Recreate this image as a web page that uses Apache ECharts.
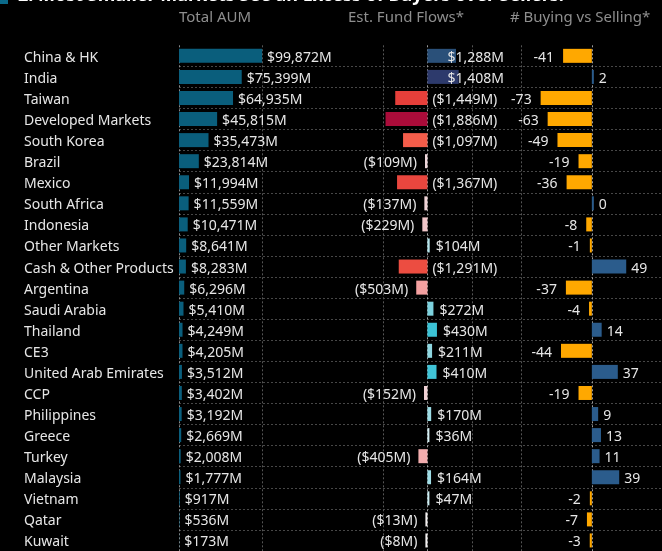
<!DOCTYPE html>
<html>
<head>
<meta charset="utf-8">
<script src="https://cdn.jsdelivr.net/npm/echarts@6/dist/echarts.min.js"></script>
<style>
  html, body { margin: 0; background: #000; }
  #main { width: 662px; height: 551px; }
</style>
</head>
<body>
<div id="main"></div>
<script>
// data
const categories = ['China & HK', 'India', 'Taiwan', 'Developed Markets', 'South Korea', 'Brazil', 'Mexico',
  'South Africa', 'Indonesia', 'Other Markets', 'Cash & Other Products', 'Argentina', 'Saudi Arabia', 'Thailand',
  'CE3', 'United Arab Emirates', 'CCP', 'Philippines', 'Greece', 'Turkey', 'Malaysia', 'Vietnam', 'Qatar', 'Kuwait'];
const totalAum = [99872, 75399, 64935, 45815, 35473, 23814, 11994, 11559, 10471, 8641, 8283, 6296,
  5410, 4249, 4205, 3512, 3402, 3192, 2669, 2008, 1777, 917, 536, 173];
const fundFlows = [1288, 1408, -1449, -1886, -1097, -109, -1367, -137, -229, 104, -1291, -503,
  272, 430, 211, 410, -152, 170, 36, -405, 164, 47, -13, -8];
const buyVsSell = [-41, 2, -73, -63, -49, -19, -36, 0, -8, -1, 49, -37,
  -4, 14, -44, 37, -19, 9, 13, 11, 39, -2, -7, -3];
const headers = ['Total AUM', 'Est. Fund Flows*', '# Buying vs Selling*'];
const chartTitle = '2. Most Smaller Markets See an Excess of Buyers over Sellers.';

const FONT = 'Noto Sans';
const TXT = '#e6e6e6';
const GRID_TOP = 45.3, GRID_H = 507.1;

// diverging colour ramp for the flows column
const flowStops = [
  [-1900, [168, 10, 58]], [-1500, [228, 59, 56]], [-1100, [244, 93, 74]], [-500, [244, 160, 160]],
  [-100, [239, 216, 220]], [0, [242, 242, 242]], [50, [200, 237, 242]], [200, [146, 216, 226]],
  [300, [117, 208, 220]], [420, [59, 195, 214]], [1300, [42, 78, 120]], [1410, [45, 58, 108]]
];
function flowColor(v) {
  if (v <= flowStops[0][0]) return 'rgb(' + flowStops[0][1] + ')';
  for (let i = 1; i < flowStops.length; i++) {
    const [x1, c1] = flowStops[i];
    const [x0, c0] = flowStops[i - 1];
    if (v <= x1) {
      const t = (v - x0) / (x1 - x0);
      return 'rgb(' + c0.map((c, k) => Math.round(c + (c1[k] - c) * t)).join(',') + ')';
    }
  }
  return 'rgb(' + flowStops[flowStops.length - 1][1] + ')';
}

const fmt = v => Math.abs(v).toLocaleString('en-US');
const dashed = { type: [2, 2], width: 1 };
const labelBase = { color: TXT, fontSize: 14, fontFamily: FONT, offset: [0, 2] };

function catAxis(idx, showLabels) {
  return {
    type: 'category', gridIndex: idx, data: categories, inverse: true,
    axisLine: { show: false }, axisTick: { show: false },
    axisLabel: showLabels
      ? {
          show: true, align: 'left', margin: 155,
          formatter: v => '{c|' + v + '}',
          rich: { c: { color: TXT, fontSize: 14, fontFamily: FONT, padding: [4, 0, 0, 0] } }
        }
      : { show: false },
    splitLine: showLabels
      ? { show: true, showMinLine: false, lineStyle: Object.assign({ color: '#474747' }, dashed) }
      : { show: false }
  };
}
function valAxis(idx, min, max, interval, colors) {
  return {
    type: 'value', gridIndex: idx, min: min, max: max, interval: interval,
    axisLine: { show: false }, axisTick: { show: false }, axisLabel: { show: false },
    splitLine: { show: true, lineStyle: Object.assign({ color: colors }, dashed) }
  };
}

const chart = echarts.init(document.getElementById('main'));
chart.setOption({
  backgroundColor: '#000',
  animation: false,
  textStyle: { fontFamily: FONT },
  title: [
    { text: headers[0], left: 179, top: 10 },
    { text: headers[1], left: 348, top: 10 },
    { text: headers[2], left: 510, top: 10 }
  ].map(t => Object.assign(t, {
    padding: 0,
    textStyle: { color: '#8e8e8e', fontSize: 15, fontWeight: 'normal', fontFamily: FONT }
  })),
  graphic: [
    { type: 'rect', shape: { x: 0, y: -8, width: 8, height: 12 }, style: { fill: '#0b6a8a' } },
    { type: 'text', x: 18, y: 5, style: { text: chartTitle, fill: '#fff', font: 'bold 18px "' + FONT + '"', verticalAlign: 'bottom' } }
  ],
  grid: [
    { left: 179, right: 0, top: GRID_TOP, height: GRID_H },
    { left: 179, width: 83.2, top: GRID_TOP, height: GRID_H },
    { left: 383, width: 88.8, top: GRID_TOP, height: GRID_H },
    { left: 521.7, width: 143.2, top: GRID_TOP, height: GRID_H }
  ],
  xAxis: [
    { type: 'value', gridIndex: 0, show: false, min: 0, max: 1 },
    valAxis(1, 0, 100000, 100000, ['#8a8a8a', '#555']),
    valAxis(2, -2000, 2000, 2000, ['#555', '#9a9a9a', '#555']),
    valAxis(3, -100, 100, 100, ['#555', '#9a9a9a', '#555'])
  ],
  yAxis: [catAxis(0, true), catAxis(1, false), catAxis(2, false), catAxis(3, false)],
  series: [
    {
      type: 'bar', xAxisIndex: 1, yAxisIndex: 1, data: totalAum, barWidth: 14,
      itemStyle: { color: '#0a5e7c' },
      label: Object.assign({
        show: true, position: 'right', distance: 5,
        formatter: p => '$' + fmt(p.value) + 'M'
      }, labelBase)
    },
    {
      type: 'bar', xAxisIndex: 2, yAxisIndex: 2, barWidth: 14, barMinHeight: 2,
      data: fundFlows.map(v => ({
        value: v,
        itemStyle: { color: flowColor(v) },
        label: v >= 1000 ? { position: 'insideLeft', distance: 20 }
          : v <= -1000 ? { position: 'right', distance: 5 }
          : v < 0 ? { position: 'left', distance: 8 }
          : { position: 'right', distance: 6 }
      })),
      label: Object.assign({
        show: true,
        formatter: p => p.value < 0 ? '($' + fmt(p.value) + 'M)' : '$' + fmt(p.value) + 'M'
      }, labelBase)
    },
    {
      type: 'bar', xAxisIndex: 3, yAxisIndex: 3, barWidth: 14, barMinHeight: 2,
      data: buyVsSell.map(v => ({
        value: v,
        itemStyle: { color: v < 0 ? '#ffa800' : '#2b5c8c' },
        label: v < 0 ? { position: 'left', distance: 9 } : { position: 'right', distance: 5 }
      })),
      label: Object.assign({ show: true }, labelBase)
    }
  ]
});
</script>
</body>
</html>
